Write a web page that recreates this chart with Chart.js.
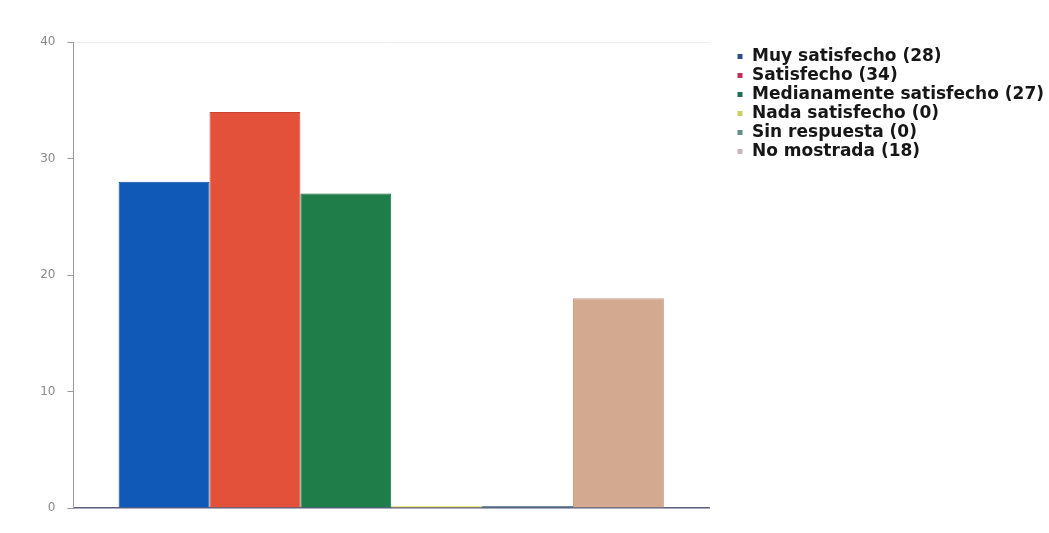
<!DOCTYPE html>
<html>
<head>
<meta charset="utf-8">
<script src="https://cdn.jsdelivr.net/npm/chart.js@4/dist/chart.umd.min.js"></script>
<style>
html,body{margin:0;padding:0;background:#fff;}
#wrap{position:relative;width:1049px;height:533px;}
</style>
</head>
<body>
<div id="wrap"><canvas id="c" width="1049" height="533"></canvas></div>
<script>
const categories = [''];
const seriesNames = ['Muy satisfecho', 'Satisfecho', 'Medianamente satisfecho', 'Nada satisfecho', 'Sin respuesta', 'No mostrada'];
const seriesValues = [28, 34, 27, 0, 0, 18];
const yTicks = [0, 10, 20, 30, 40];

const barColors = ['#1159b6', '#e4513a', '#1e7d48', '#e9de72', '#4b7a8c', '#d3a98f'];
const barBorders = ['#0d4a9a', '#c8432f', '#17683b', '#e9de72', '#4b7a8c', '#c99d84'];
const legendColors = ['#2c4f8c', '#c22e55', '#1f6e52', '#c9d163', '#5f8f86', '#c7b7bd'];

const datasets = seriesNames.map((n, i) => ({
  label: n + ' (' + seriesValues[i] + ')',
  data: [seriesValues[i]],
  backgroundColor: barColors[i],
  borderColor: barBorders[i],
  borderWidth: 1,
  borderSkipped: 'bottom',
  minBarLength: 2,
  categoryPercentage: 0.858,
  barPercentage: 1.0
}));

new Chart(document.getElementById('c'), {
  type: 'bar',
  data: { labels: categories, datasets },
  options: {
    responsive: false,
    animation: false,
    layout: { padding: { top: 42, bottom: 25, left: 0, right: -5 } },
    plugins: {
      tooltip: { enabled: false },
      legend: {
        position: 'right',
        align: 'start',
        maxWidth: 400,
        title: { display: true, text: '', padding: { top: 3, bottom: 0 }, font: { size: 1, lineHeight: 1 } },
        labels: {
          usePointStyle: true,
          pointStyle: 'rect',
          boxWidth: 7,
          boxHeight: 5,
          padding: 2,
          color: '#161616',
          font: { family: 'DejaVu Sans', size: 17, weight: 'bold' },
          generateLabels(chart) {
            return chart.data.datasets.map((d, i) => ({
              text: d.label,
              fillStyle: legendColors[i],
              strokeStyle: legendColors[i],
              fontColor: '#161616',
              lineWidth: 0,
              pointStyle: 'rect',
              datasetIndex: i,
              hidden: false
            }));
          }
        }
      }
    },
    scales: {
      x: {
        display: true,
        grid: { display: false, drawTicks: false },
        border: { display: true, color: '#5b5f80', width: 1.5 },
        ticks: { display: false }
      },
      y: {
        min: 0,
        max: 40,
        afterBuildTicks(scale) { scale.ticks = yTicks.map(v => ({ value: v })); },
        afterFit(scale) { scale.width = 73.5; },
        ticks: { color: '#8a8a8a', padding: 12, font: { family: 'DejaVu Sans', size: 12 } },
        grid: {
          drawTicks: true,
          tickLength: 6,
          tickColor: '#999',
          color: (ctx) => (ctx.tick && ctx.tick.value === 40 ? '#ececec' : 'rgba(0,0,0,0)')
        },
        border: { display: true, color: '#9a9aaa', width: 1 }
      },
      y2: {
        position: 'right',
        min: 0,
        max: 40,
        display: true,
        grid: { display: false, drawTicks: false },
        border: { display: false },
        ticks: { display: false },
        afterFit(scale) { scale.width = 25.5; }
      }
    }
  }
});
</script>
</body>
</html>
